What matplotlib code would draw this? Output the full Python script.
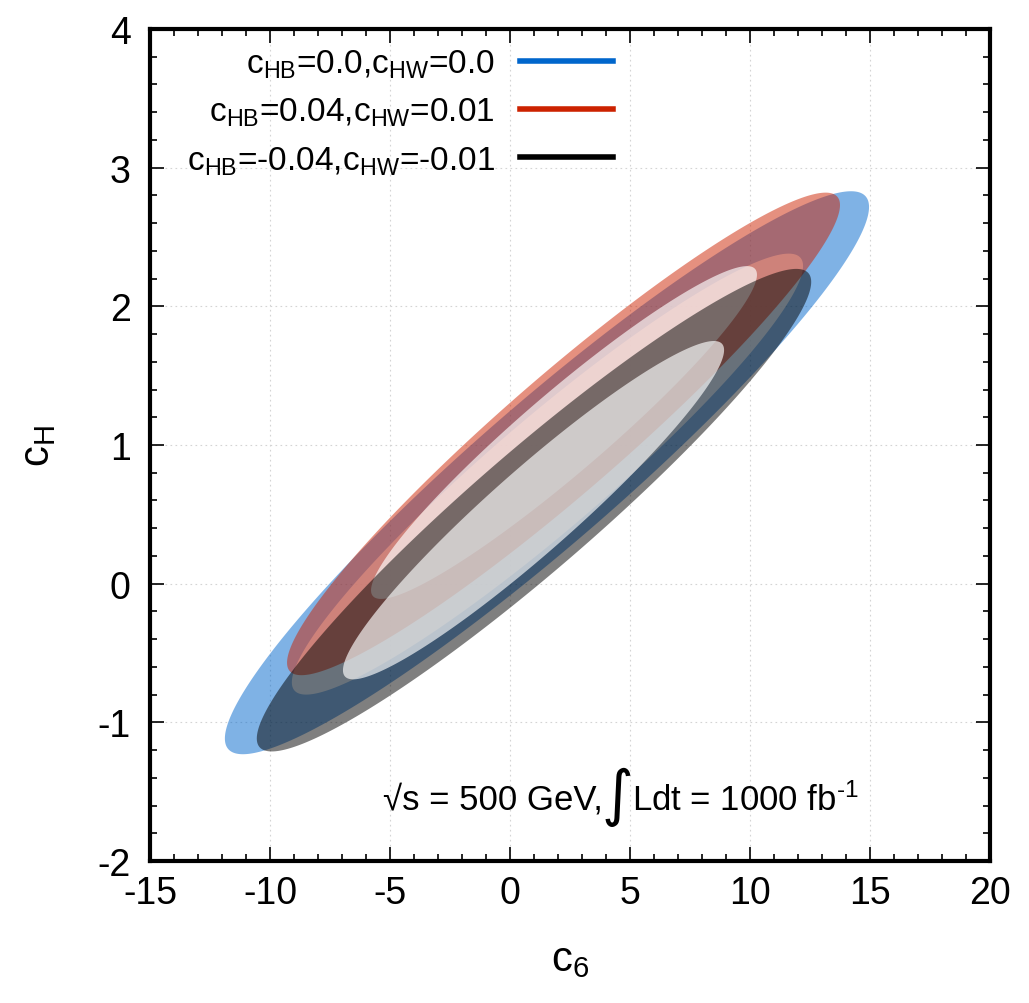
import numpy as np
import matplotlib.pyplot as plt
from matplotlib.lines import Line2D
from matplotlib.ticker import MultipleLocator

plt.rcParams["font.family"] = ["Liberation Sans", "DejaVu Sans"]
plt.rcParams["mathtext.default"] = "regular"

# 모델별 라벨과 색
labels = ["c$_{HB}$=0.0,c$_{HW}$=0.0",
          "c$_{HB}$=0.04,c$_{HW}$=0.01",
          "c$_{HB}$=-0.04,c$_{HW}$=-0.01"]
colors = ["#0066cc", "#cc2200", "#000000"]

# 타원 (중심, 반폭, 상관계수) - 바깥 / 안쪽
center_c6 = [1.54, 2.23, 1.00]
center_cH = [0.80, 1.08, 0.53]
outer_dc6 = [13.42, 11.52, 11.55]
outer_dcH = [2.03, 1.74, 1.74]
inner_dc6 = [10.65, 8.04, 7.94]
inner_dcH = [1.59, 1.20, 1.22]
inner_c6 = [1.56, 2.25, 0.98]
inner_cH = [0.79, 1.09, 0.53]
rho = [0.944, 0.948, 0.946]


def ellipse(cx, cy, sx, sy, r):
    t = np.linspace(0, 2 * np.pi, 400)
    phi = np.arccos(r)
    return cx + sx * np.cos(t), cy + sy * np.cos(t - phi)


fig = plt.figure(figsize=(10.29, 10.04), dpi=100)
ax = fig.add_axes([150 / 1029, 1 - 862 / 1004, 840 / 1029, 832 / 1004])

for i in range(3):
    x, y = ellipse(center_c6[i], center_cH[i], outer_dc6[i], outer_dcH[i], rho[i])
    ax.fill(x, y, color=colors[i], alpha=0.5, lw=0, zorder=2)
    x, y = ellipse(inner_c6[i], inner_cH[i], inner_dc6[i], inner_dcH[i], rho[i])
    ax.fill(x, y, color="white", alpha=0.65, lw=0, zorder=2)

ax.set_xlim(-15, 20)
ax.set_ylim(-2, 4)
ax.xaxis.set_major_locator(MultipleLocator(5))
ax.xaxis.set_minor_locator(MultipleLocator(1))
ax.yaxis.set_major_locator(MultipleLocator(1))
ax.yaxis.set_minor_locator(MultipleLocator(0.2))
ax.tick_params(which="both", direction="in", top=True, right=True,
               width=1.2, labelsize=27)
ax.tick_params(which="major", length=10)
ax.tick_params(which="minor", length=5)
ax.tick_params(axis="x", pad=10)
ax.tick_params(axis="y", pad=14)
ax.set_xticklabels([f"{v:g}" for v in ax.get_xticks()])
ax.set_yticklabels([f"{v:g}" for v in ax.get_yticks()])
ax.grid(True, which="major", color="#d4d4d4", linestyle=(0, (1.5, 3)), lw=0.8, zorder=0)
for s in ax.spines.values():
    s.set_linewidth(3)

ax.set_xlabel("c$_6$", fontsize=30, labelpad=20)
ax.set_ylabel("c$_H$", fontsize=30, labelpad=28)

handles = [Line2D([], [], color=c, lw=4) for c in colors]
ax.legend(handles, labels, loc="upper left", bbox_to_anchor=(0.044, 0.978),
          markerfirst=False, frameon=False, fontsize=24, handlelength=2.8,
          handletextpad=0.75, labelspacing=0.48, borderpad=0, borderaxespad=0)

ax.text(0.539, 0.074, "√s = 500 GeV,", transform=ax.transAxes, fontsize=25,
        ha="right", va="center")
ax.text(0.557, 0.078, "∫", transform=ax.transAxes, fontsize=44,
        ha="center", va="center", family="DejaVu Sans")
ax.text(0.574, 0.074, "Ldt = 1000 fb$^{\u2010 1}$", transform=ax.transAxes, fontsize=25,
        ha="left", va="center")

fig.savefig("out.png", dpi=100)
